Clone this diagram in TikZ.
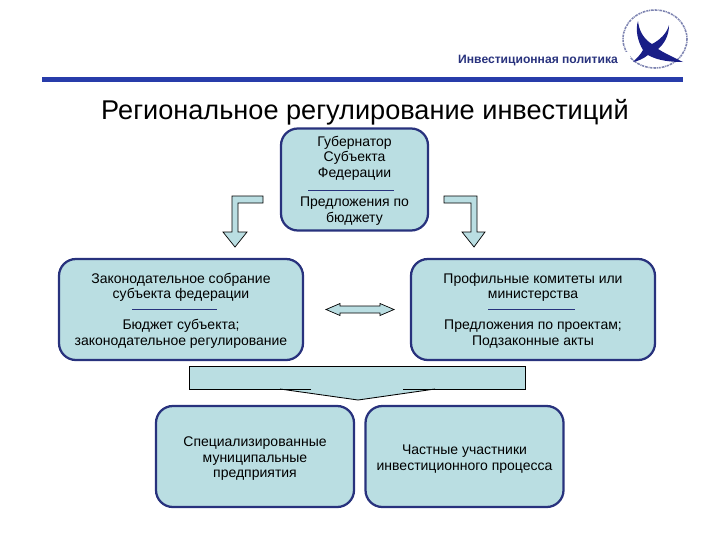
\documentclass[tikz,border=0pt]{standalone}
\usepackage{fontspec}
\setmainfont{Liberation Sans}
\usepackage{xcolor}
\definecolor{boxfill}{RGB}{186,222,226}
\definecolor{boxline}{RGB}{40,50,125}
\definecolor{rulecol}{RGB}{40,60,170}
\definecolor{birdcol}{RGB}{25,30,135}
\def\px{0.025cm}
\tikzset{
  infobox/.style={draw=boxline,line width=1.6pt,fill=boxfill,rounded corners=12pt,inner sep=0pt},
  blockarrow/.style={draw=black,fill=boxfill,line width=0.5pt},
  boxtext/.style={align=center,font=\fontsize{9.95}{11}\selectfont,inner sep=0pt},
  divider/.style={draw=boxline,line width=0.4pt}
}
\begin{document}
\begin{tikzpicture}[x=\px,y=-\px]
\useasboundingbox (0,0) rectangle (720,540);
% header
\node[font=\fontsize{8.6}{10}\selectfont\bfseries,text=boxline,inner sep=0pt] (header) at (538,61) {Инвестиционная политика};
\fill[rulecol] (42,77) rectangle (683,82);
\node[font=\fontsize{19.3}{22}\selectfont,inner sep=0pt] (title) at (365,112) {Региональное регулирование инвестиций};
% logo
\draw[boxline!60,line width=1.1pt,dash pattern=on 1.5pt off 0.5pt on 0.7pt off 0.6pt on 2pt off 0.7pt] (655,39) ellipse [x radius=32,y radius=29];
\fill[white] (620,52) rectangle (630,62);
\fill[birdcol] (638,21) .. controls (639,32) and (645,40) .. (652,44)
  .. controls (660,40) and (667,33) .. (669,25)
  .. controls (669,36) and (664,44) .. (658,49)
  .. controls (666,54) and (675,58) .. (683,62)
  .. controls (672,62) and (658,61) .. (648,55)
  .. controls (643,59) and (638,61) .. (633,62)
  .. controls (637,58) and (641,54) .. (643,50)
  .. controls (638,42) and (635,30) .. (638,21) -- cycle;
% boxes
\node[infobox,minimum width=147*\px,minimum height=102*\px] (governor) at (354.5,179.5) {};
\node[infobox,minimum width=244*\px,minimum height=101*\px] (assembly) at (181,309.5) {};
\node[infobox,minimum width=244*\px,minimum height=101*\px] (committees) at (533,309.5) {};
\node[infobox,minimum width=198*\px,minimum height=101*\px] (enterprises) at (255,456.5) {};
\node[infobox,minimum width=198*\px,minimum height=101*\px] (investors) at (464.5,456.5) {};
% box texts
\node[boxtext] (governorname) at (354.5,158) {Губернатор\\Субъекта\\Федерации};
\node[boxtext] (governordoc) at (354.5,211) {Предложения по\\бюджету};
\node[boxtext] (assemblyname) at (181,287.5) {Законодательное собрание\\субъекта федерации};
\node[boxtext] (assemblydoc) at (181,334) {Бюджет субъекта;\\законодательное регулирование};
\node[boxtext] (committeesname) at (533,287.5) {Профильные комитеты или\\министерства};
\node[boxtext] (committeesdoc) at (533,334) {Предложения по проектам;\\Подзаконные акты};
\node[boxtext] (enterprisesname) at (255,459) {Специализированные\\муниципальные\\предприятия};
\node[boxtext] (investorsname) at (464.5,459) {Частные участники\\инвестиционного процесса};
% dividers
\draw[divider] (308,190) -- (394,190);
\draw[divider] (132,309) -- (217,309);
\draw[divider] (488,309) -- (575,309);
% block arrows
\draw[blockarrow] (263,196) -- (232,196) -- (232,232) -- (223,232) -- (235,247) -- (247,232) -- (238,232) -- (238,203) -- (263,203) -- cycle;
\draw[blockarrow] (444,196) -- (477,196) -- (477,232) -- (485,232) -- (474,247) -- (462,232) -- (471,232) -- (471,203) -- (444,203) -- cycle;
\draw[blockarrow] (326,309.5) -- (340,303.5) -- (340,306) -- (380,306) -- (380,303.5) -- (394,309.5) -- (380,315.5) -- (380,313) -- (340,313) -- (340,315.5) -- cycle;
% wide bar
\fill[boxfill] (189,366) -- (525,366) -- (525,389) -- (435,389) -- (358,400) -- (280,389) -- (189,389) -- cycle;
\draw[line width=0.6pt] (311,389) -- (189,389) -- (189,366) -- (525,366) -- (525,389) -- (403,389);
\draw[line width=0.6pt] (280,389) -- (358,400) -- (435,389);
\end{tikzpicture}
\end{document}
